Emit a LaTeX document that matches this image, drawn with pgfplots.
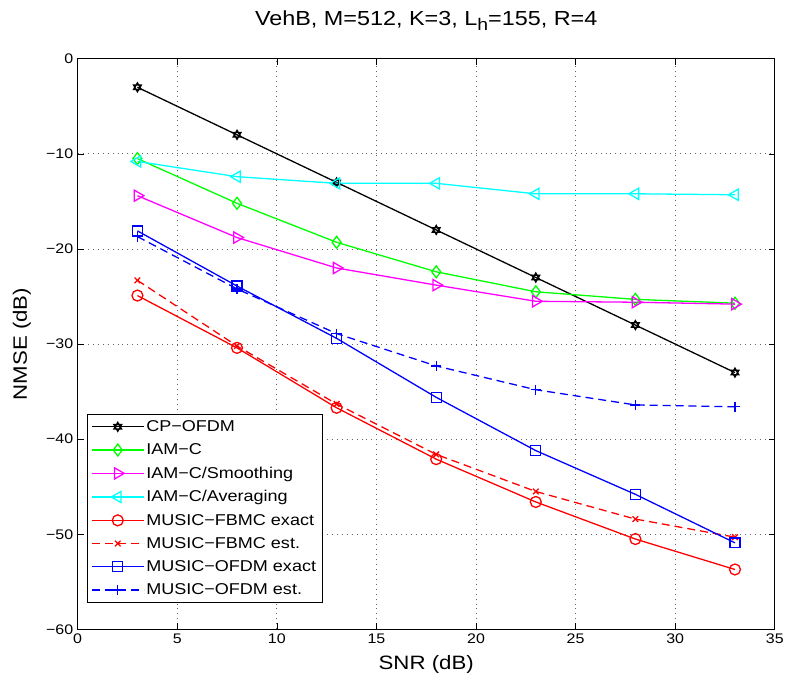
\documentclass[border=0pt]{standalone}
\usepackage{fontspec}
\setmainfont{Liberation Sans}[FakeStretch=1.15]
\usepackage{pgfplots}
\pgfplotsset{compat=1.18}
\usetikzlibrary{plotmarks}

\pgfdeclareplotmark{hexagram}{%
  \pgfpathmoveto{\pgfpointpolar{90}{\pgfplotmarksize}}%
  \pgfpathlineto{\pgfpointpolar{210}{\pgfplotmarksize}}%
  \pgfpathlineto{\pgfpointpolar{330}{\pgfplotmarksize}}%
  \pgfpathclose
  \pgfpathmoveto{\pgfpointpolar{270}{\pgfplotmarksize}}%
  \pgfpathlineto{\pgfpointpolar{30}{\pgfplotmarksize}}%
  \pgfpathlineto{\pgfpointpolar{150}{\pgfplotmarksize}}%
  \pgfpathclose
  \pgfusepathqstroke}

\definecolor{mgreen}{rgb}{0,1,0}
\definecolor{mmagenta}{rgb}{1,0,1}
\definecolor{mcyan}{rgb}{0,1,1}
\definecolor{mred}{rgb}{1,0,0}
\definecolor{mblue}{rgb}{0,0,1}

\tikzset{pl/.style={line width=1.3bp}}

\begin{document}
\begin{tikzpicture}
\begin{axis}[
  scale only axis, width=700bp, height=573bp,
  xmin=0, xmax=35, ymin=-60, ymax=0,
  xtick={0,5,...,35}, xticklabels={0,5,10,15,20,25,30,35},
  ytick={-60,-50,...,0}, yticklabels={−60,−50,−40,−30,−20,−10,0},
  tick align=inside, major tick length=6bp,
  tick style={black, line width=0.7bp},
  axis line style={line width=0.9bp},
  grid=major,
  major grid style={black!60, line width=0.8bp, dash pattern=on 1bp off 4bp},
  tick label style={font=\fontsize{14}{16}\selectfont},
  xticklabel style={yshift=-1bp},
  yticklabel style={xshift=-1bp},
  label style={font=\fontsize{19.5}{22}\selectfont},
  xlabel={SNR (dB)}, ylabel={NMSE (dB)},
  xlabel style={at={(axis description cs:0.5,0)}, anchor=center, yshift=-35bp},
  ylabel style={at={(axis description cs:-0.08,0.5)}, anchor=center},
  title={VehB, M=512, K=3, L\raisebox{-0.45ex}{\fontsize{17}{17}\selectfont h}=155, R=4},
  title style={font=\fontsize{20.5}{24}\selectfont, at={(axis description cs:0.5,1)}, anchor=base, yshift=27bp},
  legend style={at={(axis description cs:0.013,0.047)}, anchor=south west,
    draw=black, fill=white, line width=1bp,
    font=\fontsize{15.8}{18}\selectfont, row sep=6.8bp, inner xsep=4bp, inner ysep=4bp},
  legend cell align=left,
  legend image code/.code={\draw[mark repeat=2,mark phase=2,#1] plot coordinates {(0bp,0bp) (26bp,0bp) (52bp,0bp)};},
]
\addplot[pl, black, mark=hexagram, mark size=4.5bp, mark options={solid}] coordinates {(3,-3)(8,-8)(13,-13)(18,-18)(23,-23)(28,-28)(33,-33)};
\addlegendentry{CP−OFDM}
\addplot[pl, mgreen, mark=diamond, mark size=6bp, mark options={solid}] coordinates {(3,-10.5)(8,-15.2)(13,-19.3)(18,-22.4)(23,-24.5)(28,-25.3)(33,-25.7)};
\addlegendentry{IAM−C}
\addplot[pl, mmagenta, mark=triangle, mark size=6.5bp, mark options={solid, rotate=-90}] coordinates {(3,-14.4)(8,-18.8)(13,-22.0)(18,-23.8)(23,-25.5)(28,-25.6)(33,-25.8)};
\addlegendentry{IAM−C/Smoothing}
\addplot[pl, mcyan, mark=triangle, mark size=6.5bp, mark options={solid, rotate=90}] coordinates {(3,-10.8)(8,-12.4)(13,-13.1)(18,-13.1)(23,-14.2)(28,-14.2)(33,-14.3)};
\addlegendentry{IAM−C/Averaging}
\addplot[pl, mred, mark=o, mark size=5.5bp, mark options={solid}] coordinates {(3,-24.9)(8,-30.4)(13,-36.7)(18,-42.1)(23,-46.6)(28,-50.5)(33,-53.7)};
\addlegendentry{MUSIC−FBMC exact}
\addplot[pl, mred, dash pattern=on 8bp off 5bp, mark=x, mark size=4bp, mark options={solid}] coordinates {(3,-23.3)(8,-30.2)(13,-36.3)(18,-41.6)(23,-45.5)(28,-48.4)(33,-50.3)};
\addlegendentry{MUSIC−FBMC est.}
\addplot[pl, mblue, mark=square, mark size=5bp, mark options={solid}] coordinates {(3,-18.1)(8,-23.9)(13,-29.4)(18,-35.6)(23,-41.2)(28,-45.8)(33,-50.9)};
\addlegendentry{MUSIC−OFDM exact}
\addplot[pl, mblue, dash pattern=on 8bp off 5bp, mark=+, mark size=5bp, mark options={solid}] coordinates {(3,-18.7)(8,-24.2)(13,-28.9)(18,-32.3)(23,-34.8)(28,-36.4)(33,-36.6)};
\addlegendentry{MUSIC−OFDM est.}
\end{axis}
\path (current axis.south west) ++(-78bp,-49bp);
\path (current axis.north east) ++(9bp,59bp);
\end{tikzpicture}
\end{document}
